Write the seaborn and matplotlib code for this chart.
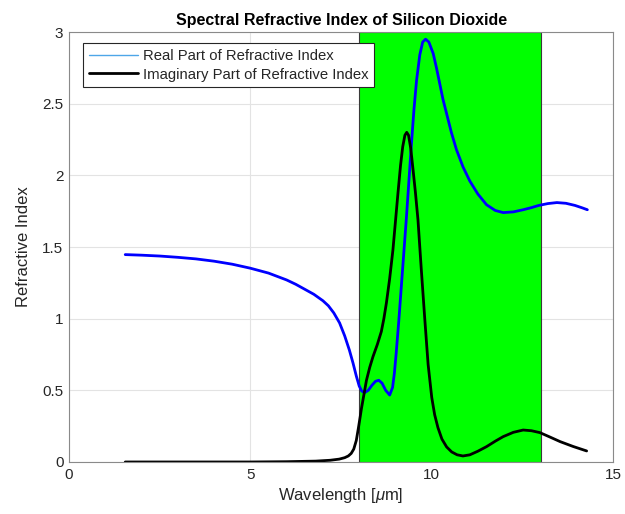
import matplotlib
matplotlib.use("Agg")
import matplotlib.pyplot as plt
import seaborn as sns
import pandas as pd
from matplotlib.lines import Line2D

# Real part n of SiO2 vs wavelength (um)
wl_real = [1.55, 2.0, 2.5, 3.0, 3.5, 4.0, 4.5, 5.0, 5.5, 6.0, 6.25, 6.5, 6.75, 7.0, 7.15,
           7.3, 7.46, 7.6, 7.73, 7.83, 7.92, 8.0, 8.07, 8.15, 8.25, 8.35, 8.45, 8.54,
           8.63, 8.73, 8.84, 8.92, 8.97, 9.02, 9.09, 9.16, 9.23, 9.30, 9.37, 9.44, 9.51,
           9.58, 9.67, 9.75, 9.83, 9.92, 10.04, 10.13, 10.22, 10.31, 10.41, 10.54, 10.68,
           10.86, 11.05, 11.27, 11.51, 11.75, 11.97, 12.25, 12.52, 12.75, 12.95, 13.2,
           13.45, 13.7, 13.95, 14.15, 14.29]
n_real = [1.447, 1.443, 1.437, 1.428, 1.417, 1.401, 1.380, 1.352, 1.318, 1.27, 1.24,
          1.205, 1.17, 1.125, 1.09, 1.04, 0.97, 0.88, 0.78, 0.69, 0.60, 0.53, 0.495,
          0.484, 0.50, 0.535, 0.563, 0.57, 0.55, 0.50, 0.467, 0.52, 0.62, 0.76, 0.98,
          1.22, 1.46, 1.70, 1.96, 2.22, 2.46, 2.66, 2.84, 2.93, 2.95, 2.93, 2.85, 2.75,
          2.64, 2.53, 2.43, 2.30, 2.18, 2.06, 1.96, 1.87, 1.795, 1.755, 1.74, 1.745,
          1.76, 1.775, 1.79, 1.803, 1.81, 1.805, 1.79, 1.773, 1.76]

# Imaginary part k of SiO2 vs wavelength (um)
wl_imag = [1.55, 3.0, 5.0, 6.0, 6.8, 7.2, 7.45, 7.6, 7.7, 7.78, 7.85, 7.92, 7.98, 8.03,
           8.06, 8.13, 8.2, 8.29, 8.38, 8.5, 8.61, 8.68, 8.75, 8.84, 8.93, 9.0, 9.07,
           9.14, 9.2, 9.26, 9.31, 9.36, 9.42, 9.48, 9.55, 9.62, 9.71, 9.81, 9.9, 10.0,
           10.08, 10.17, 10.28, 10.41, 10.55, 10.7, 10.86, 11.05, 11.27, 11.51, 11.75,
           11.97, 12.25, 12.52, 12.75, 12.98, 13.25, 13.54, 13.9, 14.27]
k_imag = [0.0, 0.0, 0.0, 0.002, 0.006, 0.012, 0.02, 0.03, 0.042, 0.06, 0.09, 0.15, 0.24,
          0.32, 0.37, 0.47, 0.57, 0.66, 0.735, 0.82, 0.91, 1.0, 1.11, 1.28, 1.48, 1.68,
          1.88, 2.07, 2.2, 2.28, 2.30, 2.28, 2.19, 2.05, 1.88, 1.69, 1.35, 0.99, 0.68,
          0.45, 0.33, 0.24, 0.16, 0.105, 0.07, 0.05, 0.042, 0.05, 0.075, 0.107, 0.145,
          0.177, 0.207, 0.223, 0.218, 0.205, 0.175, 0.142, 0.108, 0.077]

# Atmospheric window band (um)
band = [8, 13]

x_ticks = [0, 5, 10, 15]
y_ticks = [0, 0.5, 1, 1.5, 2, 2.5, 3]
y_tick_labels = ["0", "0.5", "1", "1.5", "2", "2.5", "3"]

sns.set_style("whitegrid")
plt.rcParams["font.family"] = ["Liberation Sans", "DejaVu Sans"]
plt.rcParams["mathtext.fontset"] = "custom"
plt.rcParams["mathtext.it"] = "Liberation Sans:italic"
plt.rcParams["lines.solid_joinstyle"] = "round"
plt.rcParams["lines.solid_capstyle"] = "round"

df_real = pd.DataFrame({"wl": wl_real, "n": n_real})
df_imag = pd.DataFrame({"wl": wl_imag, "k": k_imag})

fig = plt.figure(figsize=(6.25, 5.14), dpi=100)
ax = fig.add_axes([0.1104, 0.1012, 0.8706, 0.8365])

ax.axvspan(band[0], band[1], facecolor="#00FF00", edgecolor="#3a3a3a", lw=0.8, zorder=1)

sns.lineplot(data=df_real, x="wl", y="n", ax=ax, color="#0000FF", lw=2, zorder=3,
             sort=False)
sns.lineplot(data=df_imag, x="wl", y="k", ax=ax, color="black", lw=2, zorder=3,
             sort=False)

ax.set_xlim(0, 15)
ax.set_ylim(0, 3)
ax.set_xticks(x_ticks)
ax.set_xticklabels([str(t) for t in x_ticks])
ax.set_yticks(y_ticks)
ax.set_yticklabels(y_tick_labels)
ax.grid(True, color="#e3e3e3", lw=0.8, zorder=0)
ax.set_axisbelow(True)
for s in ax.spines.values():
    s.set_color("#8a8a8a")
    s.set_linewidth(0.8)
    s.set_zorder(4)
ax.tick_params(direction="in", length=3, width=0.6, color="#555555",
               labelsize=11, labelcolor="#262626", pad=4)

ax.set_xlabel("Wavelength [$\\mu$m]", fontsize=12, color="#262626", labelpad=3)
ax.set_ylabel("Refractive Index", fontsize=12, color="#262626", labelpad=8)
ax.set_title("Spectral Refractive Index of Silicon Dioxide", fontsize=11.5,
             fontweight="bold", color="black", pad=5)

handles = [Line2D([], [], color="#4DA6E8", lw=1),
           Line2D([], [], color="black", lw=2)]
leg = ax.legend(handles, ["Real Part of Refractive Index",
                          "Imaginary Part of Refractive Index"],
                loc="upper left", bbox_to_anchor=(0.026, 0.975), fontsize=10.75,
                frameon=True, fancybox=False, framealpha=1, edgecolor="#262626",
                borderpad=0.4, handlelength=3.3, handletextpad=0.3,
                labelspacing=0.32, borderaxespad=0)
leg.get_frame().set_linewidth(0.8)
leg.set_zorder(5)

fig.savefig("out.png", dpi=100)
